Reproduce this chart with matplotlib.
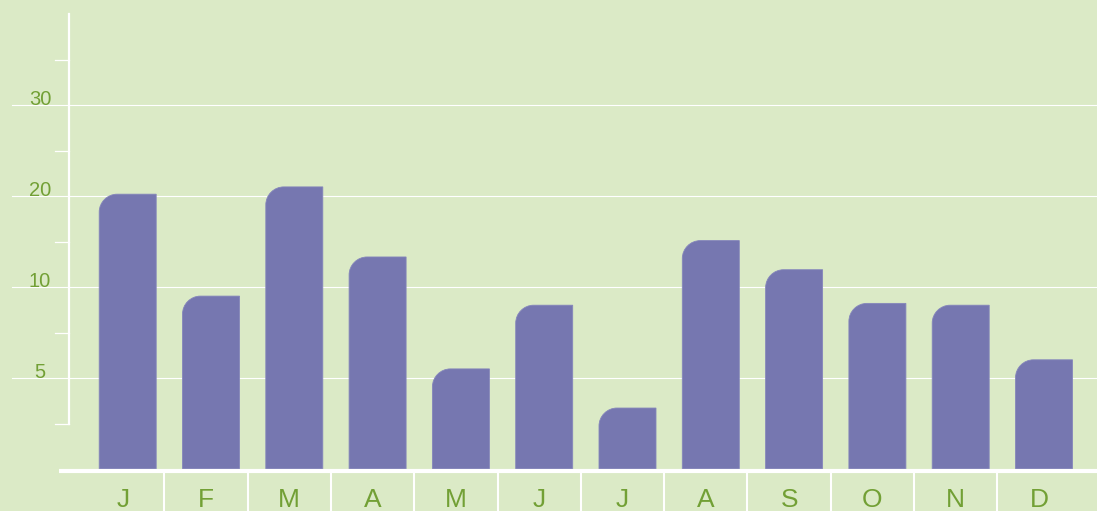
import numpy as np
import matplotlib
matplotlib.use("Agg")
import matplotlib.pyplot as plt
from matplotlib.path import Path
from matplotlib.patches import PathPatch
from matplotlib.transforms import blended_transform_factory, IdentityTransform

# ---- data ----
months = ["J", "F", "M", "A", "M", "J", "J", "A", "S", "O", "N", "D"]
values = [20.2, 9.5, 21.0, 13.3, 5.5, 9.0, 3.35, 15.1, 11.9, 9.1, 9.0, 6.0]
ytick_vals = [5, 10, 20, 30]
ytick_labels = ["5", "10", "20", "30"]
minor_vals = [2.5, 7.5, 15, 25, 35]

BG = "#dbeac6"
BAR = "#7677b0"
TXT = "#72a035"
plt.rcParams["font.family"] = ["Liberation Sans", "DejaVu Sans"]

# piecewise scale: 0,5,10,20,30,40 equally spaced
XS = [-5, 0, 5, 10, 20, 30, 40, 50]
US = [-1, 0, 1, 2, 3, 4, 5, 6]
def fwd(x):
    return np.interp(x, XS, US)
def inv(u):
    return np.interp(u, US, XS)

W, H = 1097, 511
fig = plt.figure(figsize=(W / 100, H / 100), dpi=100)
fig.patch.set_facecolor(BG)
ax = fig.add_axes([0, 0, 1, 1])
ax.set_facecolor(BG)
ax.set_yscale("function", functions=(fwd, inv))

pitch = 83.3
c0 = 127.7
ax.set_xlim(-c0 / pitch, (W - c0) / pitch)
y_bot_u = (469 - H) / 91.0
y_top_u = 469 / 91.0
ax.set_ylim(inv(y_bot_u), inv(y_top_u))
for s in ax.spines.values():
    s.set_visible(False)
ax.set_xticks([])
ax.set_yticks([])
ax.minorticks_off()

bt = blended_transform_factory(ax.transAxes, ax.transData)

# gridlines
for v in ytick_vals:
    ax.plot([12 / W, 1], [v, v], transform=bt, color="white", lw=0.8, zorder=1)
# y-axis line and minor ticks
ax.plot([69.5 / W, 69.5 / W], [2.5, 40], transform=bt, color="white", lw=1.6, zorder=2)
for v in minor_vals:
    ax.plot([55 / W, 69.5 / W], [v, v], transform=bt, color="white", lw=0.9, zorder=2)
# y labels
for v, lab in zip(ytick_vals, ytick_labels):
    ax.text(40 / W, v, lab, transform=bt, ha="center", va="baseline",
            color=TXT, fontsize=14.5)

# bars with rounded top-left corner, drawn in pixel space
fig.canvas.draw()
bw = 57 / pitch
r = 18.0
k = 0.5523
for i, v in enumerate(values):
    (x0, y0) = ax.transData.transform((i - bw / 2, 0))
    (x1, y1) = ax.transData.transform((i + bw / 2, v))
    verts = [(x0, y0), (x1, y0), (x1, y1), (x0 + r, y1),
             (x0 + r - r * k, y1), (x0, y1 - r + r * k), (x0, y1 - r),
             (x0, y0), (x0, y0)]
    codes = [Path.MOVETO, Path.LINETO, Path.LINETO, Path.LINETO,
             Path.CURVE4, Path.CURVE4, Path.CURVE4, Path.LINETO, Path.CLOSEPOLY]
    patch = PathPatch(Path(verts, codes), transform=IdentityTransform(),
                      facecolor=BAR, edgecolor="#8586bb", lw=0.6, zorder=3)
    ax.add_artist(patch)

# bottom axis line
ax.plot([59 / W, 1], [(H - 470.5) / H] * 2, transform=ax.transAxes,
        color="white", lw=3, zorder=4, solid_capstyle="butt")
# category separators
off = -0.06
for i in range(len(months) - 1):
    x = i + 0.5 + off
    ax.plot([x, x], [0, (H - 472) / H], transform=blended_transform_factory(ax.transData, ax.transAxes),
            color="white", lw=1.5, zorder=4, solid_capstyle="butt")
# x labels
xt = blended_transform_factory(ax.transData, ax.transAxes)
for i, m in enumerate(months):
    ax.text(i + off, (H - 507) / H, m, transform=xt, ha="center", va="baseline",
            color=TXT, fontsize=19)

fig.savefig("out.png", dpi=100, facecolor=BG)
